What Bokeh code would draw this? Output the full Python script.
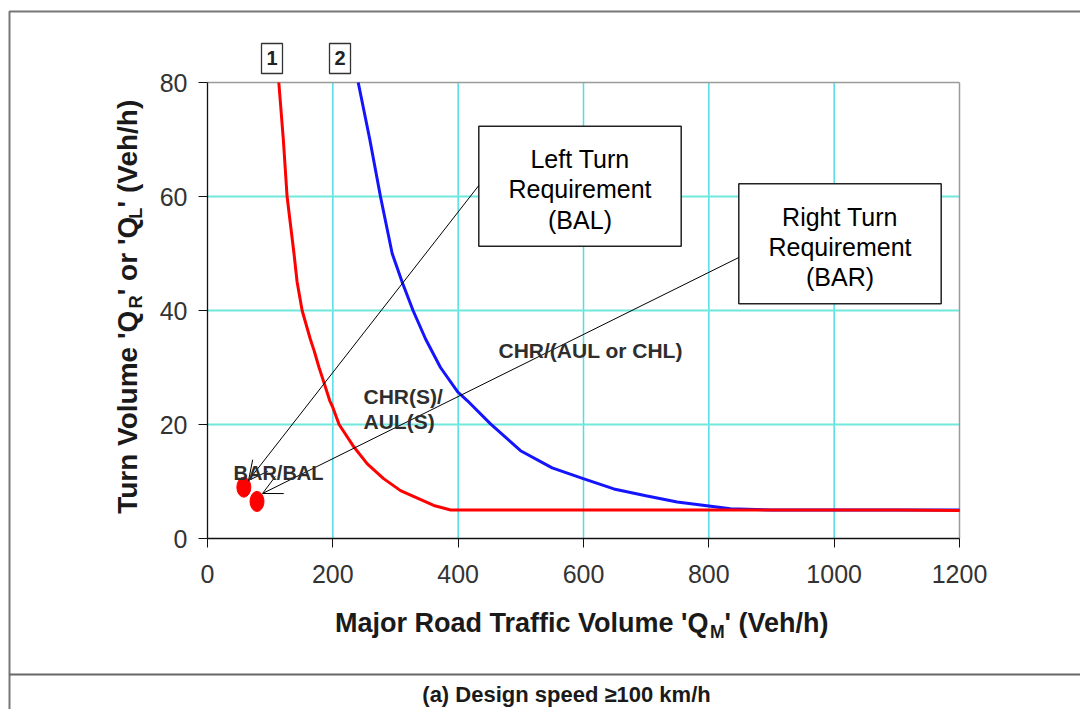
import math
from bokeh.plotting import figure
from bokeh.models import Range1d, FixedTicker, Label, BoxAnnotation, Arrow, OpenHead, LinearAxis
from bokeh.embed import file_html
from bokeh.resources import INLINE

# ---------------- data ----------------
curve1_x = [113.8, 121, 127, 138, 143, 151, 164, 170, 178, 186, 195, 200, 210, 234, 255, 281, 308, 361, 388,
            500, 700, 900, 1100, 1200]
curve1_y = [80, 70, 60, 50, 45, 40, 35, 33, 30, 27.3, 24.2, 23, 20, 16, 13.1, 10.5, 8.4, 5.8, 5.0,
            5.0, 5.0, 5.0, 5.0, 4.9]
curve2_x = [240.5, 259, 276, 294.7, 310.6, 328, 348, 371.8, 399.5, 414.4, 451.6, 499.5, 550, 599.5, 648.4,
            699.5, 749.5, 800, 834.6, 900, 1000, 1200]
curve2_y = [80, 70, 60, 50, 45, 40, 35, 30, 25.7, 24.2, 20.1, 15.4, 12.4, 10.5, 8.7,
            7.5, 6.4, 5.7, 5.2, 5.0, 5.0, 5.0]
point_x = [58, 79]
point_y = [9.0, 6.5]
x_ticks = [0, 200, 400, 600, 800, 1000, 1200]
y_ticks = [0, 20, 40, 60, 80]
curve_tags = ["1", "2"]
region_labels = ["CHR(S)/", "AUL(S)", "CHR/(AUL or CHL)", "BAR/BAL"]
left_box_lines = ["Left Turn", "Requirement", "(BAL)"]
right_box_lines = ["Right Turn", "Requirement", "(BAR)"]
x_title = [("Major Road Traffic Volume 'Q", False), ("M", True), ("' (Veh/h)", False)]
y_title = [("Turn Volume 'Q", False), ("R", True), ("' or 'Q", False), ("L", True), ("' (Veh/h)", False)]
caption = "(a) Design speed \u2265100 km/h"

# ---------------- layout ----------------
W, H = 1080, 709
FL, FR, FT, FB = 207, 959, 82, 538   # pixels of the plot box inside the canvas
X0, X1 = x_ticks[0], x_ticks[-1]
Y0, Y1 = y_ticks[0], y_ticks[-1]


def X(px):
    return X0 + (px - FL) * (X1 - X0) / (FR - FL)


def Y(py):
    return Y0 + (FB - py) * (Y1 - Y0) / (FB - FT)


FONT = "Liberation Sans"
BOLD_W = {' ': 278, "'": 238, '(': 333, ')': 333, '/': 278, 'A': 722, 'B': 722, 'C': 722, 'D': 722,
          'E': 667, 'H': 722, 'L': 611, 'M': 833, 'Q': 778, 'R': 722, 'S': 667, 'T': 611, 'U': 722,
          'V': 667, 'a': 556, 'c': 556, 'd': 611, 'e': 556, 'f': 333, 'h': 611, 'i': 278, 'j': 278,
          'l': 278, 'm': 889, 'n': 611, 'o': 611, 'r': 389, 'u': 611, 'k': 556, 'g': 611, 'p': 611, 's': 556}


def text_w(s, size):
    return sum(BOLD_W.get(c, 556) for c in s) / 1000.0 * size


def label(txt, px, cy, size, bold=False, align="left", color="#1a1a1a", angle=0.0):
    """px/cy: canvas pixel of the anchor; cy is the visual centre of the capitals."""
    return Label(x=X(px), y=Y(cy), text=txt, text_font=FONT, text_font_size=f"{size:.1f}px",
                 text_font_style="bold" if bold else "normal", text_align=align,
                 text_baseline="alphabetic", text_color=color, angle=angle)


# the frame covers the whole canvas; the chart's axes are pinned at x=0 / y=0
p = figure(width=W, height=H, x_range=Range1d(X(0), X(W)), y_range=Range1d(Y(H), Y(0)),
           output_backend="svg", toolbar_location=None,
           x_axis_location=None, y_axis_location=None, min_border=0)
p.background_fill_color = "white"
p.border_fill_color = "white"
p.outline_line_color = None
p.grid.visible = False

# grid lines
gx = x_ticks[1:-1]
gy = y_ticks[1:-1]
p.segment(x0=gx, y0=[Y0] * len(gx), x1=gx, y1=[Y1] * len(gx), line_color="#4fdfe4", line_width=1.5)
p.segment(x0=[X0] * len(gy), y0=gy, x1=[X1] * len(gy), y1=gy, line_color="#70e8dc", line_width=2)
# grey top / right border of the plot box
p.segment(x0=[X0, X1], y0=[Y1, Y0], x1=[X1, X1], y1=[Y1, Y1], line_color="#9a9a9a", line_width=1.5)

xa = LinearAxis(fixed_location=Y0, bounds=(X0, X1), ticker=FixedTicker(ticks=x_ticks))
ya = LinearAxis(fixed_location=X0, bounds=(Y0, Y1), ticker=FixedTicker(ticks=y_ticks))
for ax in (xa, ya):
    ax.major_label_text_font = FONT
    ax.major_label_text_font_size = "25px"
    ax.major_label_text_color = "#333333"
    ax.axis_line_color = "#111111"
    ax.axis_line_width = 1.3
    ax.major_tick_line_color = "#111111"
    ax.major_tick_out = 9
    ax.major_tick_in = 0
    ax.minor_tick_line_color = None
xa.major_label_standoff = 17
ya.major_label_standoff = 11
p.add_layout(xa, "below")
p.add_layout(ya, "left")

# curves
p.line(curve2_x, curve2_y, line_color="#1414ff", line_width=3)
p.line(curve1_x, curve1_y, line_color="#ff0000", line_width=3)
p.ellipse(x=point_x, y=point_y, width=14, height=20, width_units="screen", height_units="screen",
          fill_color="#ff0000", line_color="#ff0000")

# outer frame of the figure panel
p.add_layout(BoxAnnotation(left=X(9), right=X(1100), top=Y(11), bottom=Y(760),
                           fill_alpha=0, line_color="#777777", line_alpha=1, line_width=2))
p.add_layout(BoxAnnotation(left=X(9), right=X(1100), top=Y(674), bottom=Y(674),
                           fill_alpha=0, line_color="#666666", line_alpha=1, line_width=2))

# curve tags "1" and "2"
for tag, cx in zip(curve_tags, (271.5, 339.5)):
    p.add_layout(BoxAnnotation(left=X(cx - 10.5), right=X(cx + 10.5), top=Y(43), bottom=Y(73),
                               fill_color="white", fill_alpha=1, line_color="#333333", line_alpha=1,
                               line_width=1.3))
    p.add_layout(label(tag, cx, 57.5, 20, bold=True, align="center", color="#222222"))

# requirement boxes
for lines, (l, r, t, b), centers in ((left_box_lines, (478.3, 680.7, 125.7, 245.7), (158, 188.3, 219.2)),
                                     (right_box_lines, (738.3, 940.7, 183.3, 303.3), (216.2, 246.5, 276.9))):
    p.add_layout(BoxAnnotation(left=X(l), right=X(r), top=Y(t), bottom=Y(b),
                               fill_color="white", fill_alpha=1, line_color="#222222", line_alpha=1,
                               line_width=1.5))
    for txt, cy in zip(lines, centers):
        p.add_layout(label(txt, (l + r) / 2, cy, 25, align="center", color="black"))

# arrows
head = dict(size=19, line_width=1, line_color="black")
p.add_layout(Arrow(x_start=X(478.3), y_start=Y(185), x_end=X(248), y_end=Y(480),
                   end=OpenHead(**head), line_color="black", line_width=1))
p.add_layout(Arrow(x_start=X(738.3), y_start=Y(257), x_end=X(262), y_end=Y(493),
                   end=OpenHead(**head), line_color="black", line_width=1))

# region labels
for txt, (lx, cy, fs) in zip(region_labels, ((363, 395.5, 21), (363, 420.5, 21), (498, 350, 21), (233, 472.7, 20))):
    p.add_layout(label(txt, lx, cy, fs, bold=True, color="#2e2e2e"))

# axis titles with subscripts
TS = 27
SUB = 0.65
SS = TS * SUB
SUB_SHIFT = 0.2 * TS + 0.358 * TS - 0.358 * SS   # centre offset of the subscript


def seg_width(t, sub, ts=TS):
    return text_w(t, ts * SUB if sub else ts)


total = sum(seg_width(t, s) for t, s in x_title)
cur = 583 - total / 2
for t, s in x_title:
    if s:
        cur -= 2
    p.add_layout(label(t, cur, 622.5 + (SUB_SHIFT if s else 0), SS if s else TS, bold=True))
    cur += seg_width(t, s)

TY = 28
SSY = TY * SUB
SUB_SHIFT_Y = 0.2 * TY + 0.358 * TY - 0.358 * SSY
total = sum(seg_width(t, s, TY) for t, s in y_title)
cur = 303.5 + total / 2
for t, s in y_title:
    if s:
        cur += 2
    p.add_layout(label(t, 126.5 + (SUB_SHIFT_Y if s else 0), cur, SSY if s else TY, bold=True,
                       angle=math.pi / 2))
    cur -= seg_width(t, s, TY)

# caption
p.add_layout(label(caption, 566, 694, 22, bold=True, align="center"))

open("out.html", "w").write(file_html(p, INLINE))
